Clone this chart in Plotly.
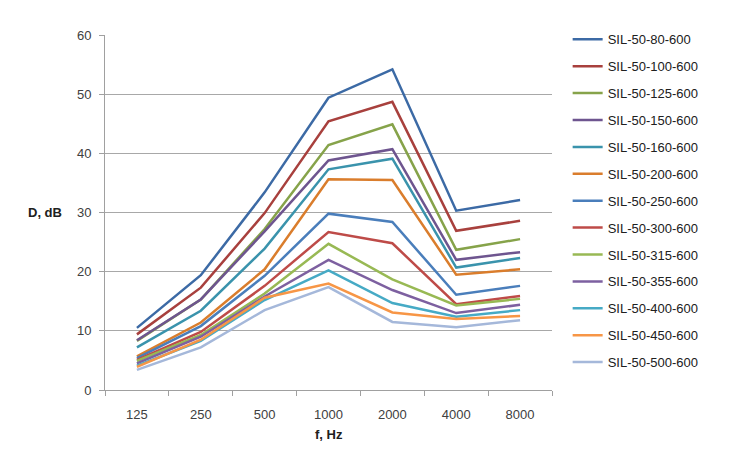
import plotly.graph_objects as go

freqs = ["125", "250", "500", "1000", "2000", "4000", "8000"]
names = ["SIL-50-80-600", "SIL-50-100-600", "SIL-50-125-600", "SIL-50-150-600",
         "SIL-50-160-600", "SIL-50-200-600", "SIL-50-250-600", "SIL-50-300-600",
         "SIL-50-315-600", "SIL-50-355-600", "SIL-50-400-600", "SIL-50-450-600",
         "SIL-50-500-600"]
s80 = [10.5, 19.4, 33.4, 49.4, 54.2, 30.3, 32.1]
s100 = [9.4, 17.3, 29.9, 45.4, 48.7, 26.9, 28.6]
s125 = [8.3, 15.3, 27.2, 41.4, 44.9, 23.7, 25.5]
s150 = [8.4, 15.3, 26.8, 38.8, 40.7, 22.0, 23.3]
s160 = [7.2, 13.4, 23.9, 37.3, 39.1, 20.7, 22.3]
s200 = [5.7, 11.4, 20.4, 35.6, 35.5, 19.5, 20.4]
s250 = [5.4, 10.8, 19.3, 29.8, 28.4, 16.1, 17.6]
s300 = [5.1, 9.8, 17.6, 26.7, 24.8, 14.5, 15.9]
s315 = [4.9, 9.3, 16.3, 24.7, 18.7, 14.3, 15.4]
s355 = [4.5, 9.0, 15.8, 22.0, 16.9, 13.0, 14.4]
s400 = [4.1, 8.3, 15.2, 20.2, 14.7, 12.4, 13.5]
s450 = [3.9, 8.5, 15.6, 18.0, 13.1, 12.0, 12.5]
s500 = [3.4, 7.2, 13.5, 17.4, 11.5, 10.6, 11.8]
series = [s80, s100, s125, s150, s160, s200, s250, s300, s315, s355, s400, s450, s500]
colors = ["#3C6AA5", "#A8403D", "#86A34A", "#6E558F", "#3A93AC", "#DA7D2C",
          "#4A7EBB", "#BE4B48", "#98B954", "#7D60A0", "#46AAC5", "#F79646", "#A5B8DA"]

fig = go.Figure()
for i, (n, v) in enumerate(zip(names, series)):
    fig.add_trace(go.Scatter(x=freqs, y=v, name=n, mode="lines",
                             line=dict(color=colors[i], width=2.5),
                             legendgroup=f"g{i}"))

font_c = "#404040"
fig.update_layout(
    width=730, height=462,
    margin=dict(l=105, r=178, t=35, b=72),
    paper_bgcolor="white", plot_bgcolor="white",
    font=dict(family="Liberation Sans, Arial, sans-serif", size=13, color=font_c),
    showlegend=True,
    legend=dict(x=1.035, xanchor="left", y=1.03, yanchor="top",
                tracegroupgap=7, font=dict(size=13, color="#202020"),
                bgcolor="rgba(0,0,0,0)", maxheight=460),
    xaxis=dict(type="category", range=[-0.5, 6.5], showgrid=False, showline=True,
               linecolor="#A0A0A0", linewidth=1, ticks="outside",
               tickson="boundaries", ticklen=5, tickcolor="#A0A0A0",
               ticklabelstandoff=12, tickfont=dict(size=13, color=font_c)),
    yaxis=dict(range=[0, 60], dtick=10, showgrid=True, gridcolor="#A8A8A8",
               gridwidth=1, showline=True, linecolor="#A0A0A0", linewidth=1,
               ticks="outside", ticklen=5, tickcolor="#A0A0A0", zeroline=False,
               ticklabelstandoff=5, tickfont=dict(size=13, color=font_c)),
    annotations=[
        dict(text="<b>D, dB</b>", xref="paper", yref="paper", x=-0.135, y=0.4986,
             xanchor="center", yanchor="middle", showarrow=False,
             font=dict(size=13, color="#202020")),
        dict(text="<b>f, Hz</b>", xref="paper", yref="paper", x=0.5, y=-0.124,
             xanchor="center", yanchor="middle", showarrow=False,
             font=dict(size=13, color="#202020")),
    ],
)
fig.write_html("out.html")
